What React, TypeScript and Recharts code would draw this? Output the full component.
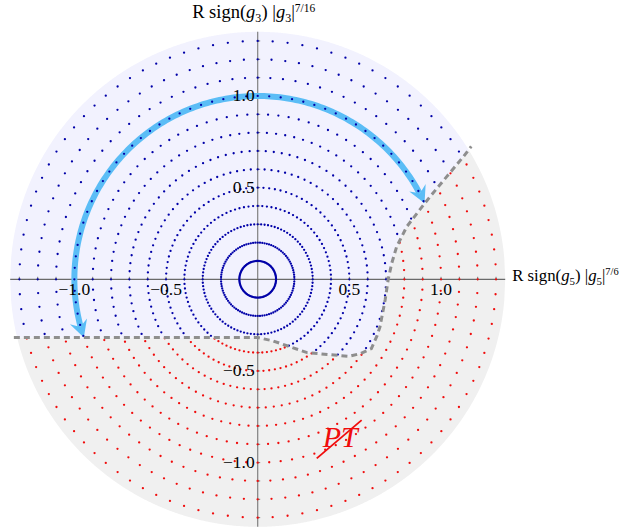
import React from 'react';
import { ComposedChart, XAxis, YAxis, Area, Scatter, ReferenceLine } from 'recharts';

// rings of sample points (radius in plot units) and how many points sit on each ring
const RADII = [0.1, 0.2, 0.3, 0.4, 0.5, 0.6, 0.7, 0.8, 0.9, 1.0, 1.1, 1.2, 1.3];
const DOTS_PER_RING = 100;

// dashed separatrix
const BOUNDARY_X = [-1.33, 0, 0.08, 0.27, 0.4, 0.5, 0.56, 0.62, 0.65, 0.667, 0.695, 0.712, 0.731, 0.758, 0.813, 0.876, 0.94, 1.031, 1.122, 1.165];
const BOUNDARY_Y = [-0.318, -0.318, -0.335, -0.4, -0.412, -0.42, -0.405, -0.378, -0.31, -0.259, -0.113, 0, 0.087, 0.178, 0.287, 0.369, 0.451, 0.56, 0.669, 0.725];

const TICKS = [-1.3, -1.2, -1.1, -1.0, -0.9, -0.8, -0.7, -0.6, -0.5, -0.4, -0.3, -0.2, -0.1, 0.1, 0.2, 0.3, 0.4, 0.5, 0.6, 0.7, 0.8, 0.9, 1.0, 1.1, 1.2, 1.3];
const TICK_LABELS = [-1.0, -0.5, 0.5, 1.0];

const OUTER_R = 1.35;
const ARROW_R = 1.0;
const ARROW_SHAFT = [195, 28]; // degrees, shaft start/end
const ARROW_TIPS = [198.5, 24.5]; // degrees, where the heads point to

const SLASH = [
  { x: 0.322, y: -0.977 },
  { x: 0.567, y: -0.768 },
];

const BLUE_BG = '#f2f2fe';
const GRAY_BG = '#f0f0f0';
const BLUE_DOT = '#0000a8';
const RED_DOT = '#f00c0c';
const ARROW = '#5bbdf6';
const SERIF = '"Liberation Serif", "Times New Roman", serif';

const boundaryAt = (x: number) => {
  if (x <= BOUNDARY_X[0]) return BOUNDARY_Y[0];
  if (x > BOUNDARY_X[BOUNDARY_X.length - 1]) return Infinity;
  for (let i = 1; i < BOUNDARY_X.length; i++) {
    if (x <= BOUNDARY_X[i]) {
      const t = (x - BOUNDARY_X[i - 1]) / (BOUNDARY_X[i] - BOUNDARY_X[i - 1]);
      return BOUNDARY_Y[i - 1] + t * (BOUNDARY_Y[i] - BOUNDARY_Y[i - 1]);
    }
  }
  return Infinity;
};

const circ = (x: number) => Math.sqrt(Math.max(0, OUTER_R * OUTER_R - x * x));

// background regions as ranged areas
const bgData: any[] = [];
for (let i = 0; i <= 540; i++) {
  const x = -OUTER_R + i * 0.005;
  const top = circ(x);
  const b = boundaryAt(x);
  const blueLo = Math.min(Math.max(b, -top), top);
  const grayHi = Math.max(Math.min(b, top), -top);
  bgData.push({ x, blue: [blueLo, top], gray: [-top, grayHi] });
}

const blueDots: { x: number; y: number }[] = [];
const redDots: { x: number; y: number }[] = [];
RADII.forEach((r) => {
  for (let k = 0; k < DOTS_PER_RING; k++) {
    const a = (k / DOTS_PER_RING) * 2 * Math.PI;
    const p = { x: r * Math.cos(a), y: r * Math.sin(a) };
    if (p.y > boundaryAt(p.x)) blueDots.push(p);
    else redDots.push(p);
  }
});

const boundaryLine = BOUNDARY_X.map((x, i) => ({ x, y: BOUNDARY_Y[i] }));

const arcPts: { x: number; y: number }[] = [];
for (let d = ARROW_SHAFT[0]; d >= ARROW_SHAFT[1]; d -= 1) {
  const a = (d * Math.PI) / 180;
  arcPts.push({ x: ARROW_R * Math.cos(a), y: ARROW_R * Math.sin(a) });
}
const arrowHeads = ARROW_TIPS.map((deg, i) => {
  const a = (deg * Math.PI) / 180;
  const s = i === 0 ? 1 : -1; // travel direction along the arc
  return { x: ARROW_R * Math.cos(a), y: ARROW_R * Math.sin(a), dx: -s * Math.sin(a), dy: s * Math.cos(a) };
});

const xTicks = TICKS.map((t) => ({ x: t, y: 0 }));
const yTicks = TICKS.map((t) => ({ x: 0, y: t }));
const fmt = (v: number) => (v < 0 ? '\u2212' + Math.abs(v).toFixed(1) : v.toFixed(1));
const xLabels = TICK_LABELS.map((t) => ({ x: t, y: 0, v: t }));
const yLabels = TICK_LABELS.map((t) => ({ x: 0, y: t, v: t }));

const none = () => <g />;

const Dot = (color: string) => (p: any) => <circle cx={p.cx} cy={p.cy} r={1.15} fill={color} />;

const Title = ({ cx, cy, sub, sup, anchor, size }: any) => (
  <text x={cx} y={cy} textAnchor={anchor} fontFamily={SERIF} fontSize={size} fill="#000">
    R sign(
    <tspan fontStyle="italic">g</tspan>
    <tspan fontSize={size * 0.65} dy={4}>{sub}</tspan>
    <tspan dy={-4}>) |</tspan>
    <tspan fontStyle="italic">g</tspan>
    <tspan fontSize={size * 0.65} dy={4}>{sub}</tspan>
    <tspan dy={-4}>|</tspan>
    <tspan fontSize={size * 0.62} dy={-6.5}>{sup}</tspan>
  </text>
);

export default function App() {
  return (
    <div style={{ position: 'absolute', left: 0, top: 0, width: 623, height: 530, background: '#fff' }}>
      <ComposedChart
        width={623}
        height={530}
        data={bgData}
        margin={{ top: 31.8, right: 117.8, bottom: 3.2, left: 10.2 }}
      >
        <XAxis type="number" dataKey="x" domain={[-OUTER_R, OUTER_R]} hide />
        <YAxis type="number" dataKey="y" domain={[-OUTER_R, OUTER_R]} hide />
        <Area dataKey="gray" type="linear" fill={GRAY_BG} fillOpacity={1} stroke="none" isAnimationActive={false} />
        <Area dataKey="blue" type="linear" fill={BLUE_BG} fillOpacity={1} stroke="none" isAnimationActive={false} />
        <ReferenceLine x={0} stroke="#808080" strokeWidth={1.2} />
        <ReferenceLine y={0} stroke="#6a6a6a" strokeWidth={1.2} />
        <Scatter
          data={xTicks}
          isAnimationActive={false}
          shape={(p: any) => <line x1={p.cx} x2={p.cx} y1={p.cy - 2.5} y2={p.cy + 1} stroke="#777" strokeWidth={1} />}
        />
        <Scatter
          data={yTicks}
          isAnimationActive={false}
          shape={(p: any) => <line x1={p.cx - 1} x2={p.cx + 2.5} y1={p.cy} y2={p.cy} stroke="#777" strokeWidth={1} />}
        />
        <Scatter
          data={arcPts}
          isAnimationActive={false}
          line={{ stroke: ARROW, strokeWidth: 6, fill: 'none' }}
          lineJointType="linear"
          shape={none}
        />
        <Scatter
          data={arrowHeads}
          isAnimationActive={false}
          shape={(p: any) => {
            const rot = (Math.atan2(-p.payload.dy, p.payload.dx) * 180) / Math.PI;
            return (
              <polygon
                points="0,0 -17,-9 -11,0 -17,9"
                transform={`translate(${p.cx},${p.cy}) rotate(${rot})`}
                fill={ARROW}
              />
            );
          }}
        />
        <Scatter data={blueDots} isAnimationActive={false} shape={Dot(BLUE_DOT)} />
        <Scatter data={redDots} isAnimationActive={false} shape={Dot(RED_DOT)} />
        <Scatter
          data={boundaryLine}
          isAnimationActive={false}
          line={{ stroke: '#8e8e8e', strokeWidth: 3, strokeDasharray: '6 4', fill: 'none' }}
          lineJointType="linear"
          shape={none}
        />
        <Scatter
          data={xLabels}
          isAnimationActive={false}
          shape={(p: any) => (
            <text x={p.cx} y={p.cy + 16} textAnchor="middle" fontFamily={SERIF} fontSize={17.5} fill="#000">
              {fmt(p.payload.v)}
            </text>
          )}
        />
        <Scatter
          data={yLabels}
          isAnimationActive={false}
          shape={(p: any) => (
            <text x={p.cx - 3} y={p.cy + 5} textAnchor="end" fontFamily={SERIF} fontSize={17.5} fill="#000">
              {fmt(p.payload.v)}
            </text>
          )}
        />
        <Scatter
          data={[{ x: 0, y: OUTER_R }]}
          isAnimationActive={false}
          shape={(p: any) => <Title cx={p.cx - 4} cy={p.cy - 13.5} sub="3" sup="7/16" anchor="middle" size={18.5} />}
        />
        <Scatter
          data={[{ x: OUTER_R, y: 0 }]}
          isAnimationActive={false}
          shape={(p: any) => <Title cx={p.cx + 7} cy={p.cy + 2} sub="5" sup="7/6" anchor="start" size={16.8} />}
        />
        <Scatter
          data={[{ x: 0.45, y: -0.9 }]}
          isAnimationActive={false}
          shape={(p: any) => (
            <text x={p.cx} y={p.cy + 3} textAnchor="middle" fontFamily={SERIF} fontStyle="italic" fontSize={30} fill={RED_DOT}>
              PT
            </text>
          )}
        />
        <Scatter
          data={SLASH}
          isAnimationActive={false}
          line={{ stroke: RED_DOT, strokeWidth: 1.8, fill: 'none' }}
          lineJointType="linear"
          shape={none}
        />
      </ComposedChart>
    </div>
  );
}
